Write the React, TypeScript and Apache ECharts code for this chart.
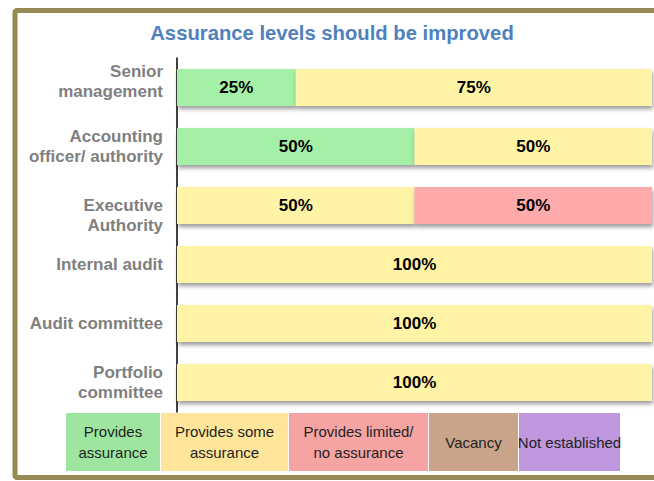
import React, { useEffect, useRef } from "react";
import * as echarts from "echarts";

const categories = [
  "Senior\nmanagement",
  "Accounting\nofficer/ authority",
  "Executive\nAuthority",
  "Internal audit",
  "Audit committee",
  "Portfolio\ncommittee",
];
const seriesNames = [
  "Provides\nassurance",
  "Provides some\nassurance",
  "Provides limited/\nno assurance",
  "Vacancy",
  "Not established",
];
const providesAssurance = [25, 50, 0, 0, 0, 0];
const providesSome = [75, 50, 50, 100, 100, 100];
const providesLimited = [0, 0, 50, 0, 0, 0];
const vacancy = [0, 0, 0, 0, 0, 0];
const notEstablished = [0, 0, 0, 0, 0, 0];

const barColors = ["#a4f0a6", "#fff4a5", "#ffabab", "#c9a48a", "#bf98df"];
const legendColors = ["#9ee69f", "#fee59a", "#f5a3a3", "#c9a48a", "#be97df"];
const legendX = [66, 161, 289, 429, 519, 621];

const FONT = "Liberation Sans, Arial, sans-serif";

export default function App() {
  const ref = useRef<HTMLDivElement>(null);
  useEffect(() => {
    if (!ref.current) return;
    const chart = echarts.init(ref.current, undefined, { renderer: "svg" });
    const allData = [providesAssurance, providesSome, providesLimited, vacancy, notEstablished];
    const series = allData.map((d, i) => ({
      type: "bar" as const,
      name: seriesNames[i],
      stack: "total",
      barWidth: "63%",
      data: d,
      itemStyle: {
        color: barColors[i],
        shadowColor: "rgba(0,0,0,0.4)",
        shadowOffsetY: 3,
        shadowOffsetX: 1,
        shadowBlur: 4,
      },
      label: {
        show: true,
        position: "inside" as const,
        formatter: (p: any) => (p.value > 0 ? p.value + "%" : ""),
        color: "#000",
        fontWeight: "bold" as const,
        fontSize: 17,
        fontFamily: FONT,
      },
    }));
    const labelFormatter = (v: string) => {
      if (v === categories[0]) return v + "\n{lo| }";
      if (v === categories[2]) return "{hi| }\n" + v;
      return v;
    };
    const legendGraphics: any[] = [];
    seriesNames.forEach((n, i) => {
      const x0 = legendX[i];
      const w = legendX[i + 1] - x0 - 1;
      legendGraphics.push({
        type: "rect",
        shape: { x: x0, y: 413, width: w, height: 58 },
        style: { fill: legendColors[i] },
      });
      legendGraphics.push({
        type: "text",
        x: x0 + w / 2,
        y: 442,
        style: {
          text: n,
          fill: "#1f1f1f",
          fontSize: 15,
          fontFamily: FONT,
          align: "center",
          verticalAlign: "middle",
          lineHeight: 21,
        },
      });
    });
    chart.setOption({
      animation: false,
      backgroundColor: "#ffffff",
      title: {
        text: "Assurance levels should be improved",
        left: 327,
        textAlign: "center",
        top: 18,
        textStyle: { color: "#4f81bd", fontSize: 20.25, fontWeight: "bold", fontFamily: FONT },
      },
      grid: { left: 177, right: 2, top: 58, bottom: 69 },
      xAxis: { type: "value", min: 0, max: 100, show: false },
      yAxis: {
        type: "category",
        data: categories,
        inverse: true,
        axisLine: { show: true, lineStyle: { color: "#000", width: 1.5 } },
        axisTick: { show: false },
        axisLabel: {
          color: "#7f7f7f",
          fontWeight: "bold",
          fontSize: 17,
          fontFamily: FONT,
          lineHeight: 20,
          margin: 14,
          align: "right",
          formatter: labelFormatter,
          rich: {
            lo: { lineHeight: 12, fontSize: 6 },
            hi: { lineHeight: 20, fontSize: 6 },
          },
        },
      },
      series,
      graphic: [
        {
          type: "rect",
          shape: { x: 15, y: 10.5, width: 700, height: 467, r: 2 },
          style: { fill: "none", stroke: "#958a55", lineWidth: 5 },
          z: 100,
        },
        ...legendGraphics,
      ],
    });
    return () => chart.dispose();
  }, []);
  return (
    <div
      ref={ref}
      style={{ position: "fixed", left: 0, top: 0, width: 654, height: 481 }}
    />
  );
}
